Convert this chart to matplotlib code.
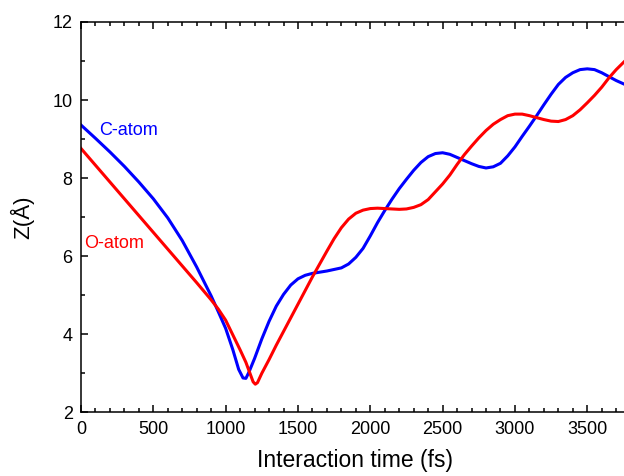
import matplotlib
matplotlib.use("Agg")
import matplotlib.pyplot as plt
from matplotlib.ticker import MultipleLocator, FuncFormatter

plt.rcParams['font.family'] = ['Liberation Sans', 'DejaVu Sans']

# C-atom (blue) trajectory
c_time = [0, 100, 200, 300, 400, 500, 600, 700, 800, 900, 950, 1000, 1050, 1090,
          1120, 1140, 1160, 1200, 1250, 1300, 1350, 1400, 1450, 1500, 1550, 1600,
          1700, 1800, 1850, 1900, 1950, 2000, 2050, 2100, 2150, 2200, 2250, 2300,
          2350, 2400, 2450, 2500, 2550, 2600, 2650, 2700, 2750, 2800, 2850, 2900,
          2950, 3000, 3050, 3100, 3150, 3200, 3250, 3300, 3350, 3400, 3450, 3500,
          3550, 3600, 3650, 3700, 3760]
c_z = [9.36, 9.02, 8.67, 8.30, 7.90, 7.47, 6.98, 6.40, 5.72, 4.98, 4.57, 4.15, 3.60, 3.10,
       2.88, 2.87, 3.02, 3.38, 3.88, 4.33, 4.72, 5.02, 5.26, 5.42, 5.51, 5.56,
       5.62, 5.70, 5.80, 5.97, 6.20, 6.52, 6.86, 7.17, 7.46, 7.73, 7.97, 8.20,
       8.40, 8.55, 8.63, 8.65, 8.61, 8.53, 8.45, 8.37, 8.30, 8.26, 8.29, 8.38,
       8.57, 8.80, 9.07, 9.33, 9.60, 9.88, 10.15, 10.40, 10.58, 10.70, 10.78, 10.80,
       10.78, 10.70, 10.60, 10.50, 10.40]

# O-atom (red) trajectory
o_time = [0, 100, 200, 300, 400, 500, 600, 700, 800, 900, 950, 1000, 1050, 1100,
          1140, 1170, 1190, 1205, 1220, 1250, 1300, 1350, 1400, 1450, 1500, 1550,
          1600, 1650, 1700, 1750, 1800, 1850, 1900, 1950, 2000, 2050, 2100, 2150,
          2200, 2250, 2300, 2350, 2400, 2450, 2500, 2550, 2600, 2650, 2700, 2750,
          2800, 2850, 2900, 2950, 3000, 3050, 3100, 3150, 3200, 3250, 3300, 3350,
          3400, 3450, 3500, 3550, 3600, 3650, 3700, 3760]
o_z = [8.76, 8.33, 7.90, 7.47, 7.04, 6.61, 6.18, 5.75, 5.32, 4.88, 4.64, 4.36, 3.98, 3.60,
       3.28, 2.98, 2.78, 2.72, 2.76, 3.00, 3.35, 3.72, 4.07, 4.42, 4.77, 5.12,
       5.47, 5.80, 6.13, 6.45, 6.73, 6.95, 7.10, 7.18, 7.22, 7.23, 7.22, 7.21,
       7.20, 7.21, 7.25, 7.32, 7.45, 7.65, 7.85, 8.08, 8.35, 8.60, 8.82, 9.03,
       9.22, 9.38, 9.50, 9.60, 9.64, 9.64, 9.60, 9.55, 9.50, 9.46, 9.45, 9.50,
       9.60, 9.75, 9.93, 10.12, 10.33, 10.57, 10.78, 11.00]

fig = plt.figure(figsize=(6.24, 4.76), dpi=100)
ax = fig.add_axes([81/624, 1 - 412.3/476, (659.6 - 81)/624, 390.3/476])

ax.plot(c_time, c_z, color='#0000ff', lw=2.2)
ax.plot(o_time, o_z, color='#ff0000', lw=2.2)

ax.text(125, 9.22, 'C-atom', color='#0000ff', fontsize=13, ha='left', va='center')
ax.text(20, 6.33, 'O-atom', color='#ff0000', fontsize=13, ha='left', va='center')

ax.set_xlim(0, 4000)
ax.set_ylim(2, 12)
ax.xaxis.set_major_locator(MultipleLocator(500))
ax.xaxis.set_minor_locator(MultipleLocator(100))
ax.xaxis.set_major_formatter(FuncFormatter(lambda v, p: '' if v > 3600 else f'{v:.0f}'))
ax.yaxis.set_major_locator(MultipleLocator(2))
ax.yaxis.set_minor_locator(MultipleLocator(1))
ax.tick_params(which='both', direction='in', top=True, right=True, width=1.1, labelsize=13)
ax.tick_params(which='major', length=4.8, pad=6)
ax.tick_params(which='minor', length=2.6)
for s in ax.spines.values():
    s.set_linewidth(1.1)

ax.set_xlabel('Interaction time (fs)', fontsize=16.5, labelpad=12)
ax.xaxis.set_label_coords((355 - 81) / 578.6, -0.095)
ax.set_ylabel('Z(Å)', fontsize=16, labelpad=13)

fig.savefig('out.png', dpi=100)
